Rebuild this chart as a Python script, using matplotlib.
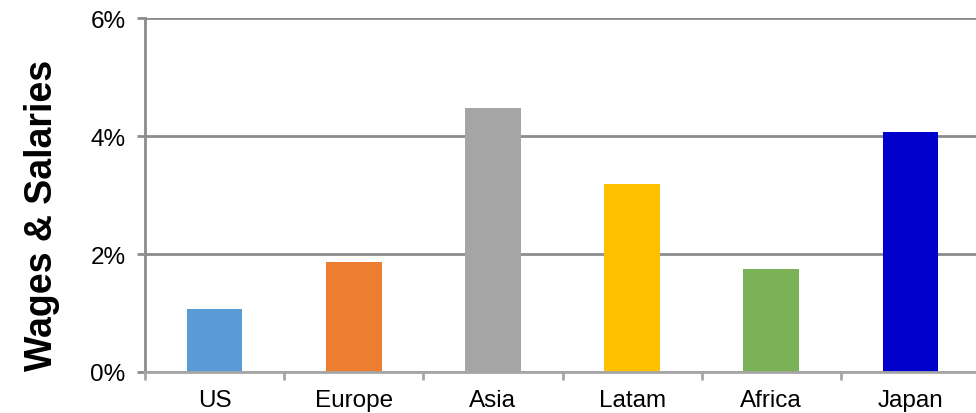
import matplotlib.pyplot as plt
from matplotlib.ticker import FuncFormatter

regions = ['US', 'Europe', 'Asia', 'Latam', 'Africa', 'Japan']
wages = [1.06, 1.87, 4.48, 3.18, 1.74, 4.07]
colors = ['#5b9bd5', '#ed7d31', '#a5a5a5', '#ffc000', '#7cb257', '#0000cc']
yticks = [0, 2, 4, 6]

plt.rcParams['font.family'] = ['Liberation Sans', 'DejaVu Sans']

fig = plt.figure(figsize=(9.76, 4.14), dpi=100)
ax = fig.add_axes([145 / 976, 41 / 414, 835 / 976, 354 / 414])

ax.bar(range(len(regions)), wages, width=0.4, color=colors, zorder=3)

ax.set_xlim(-0.5, len(regions) - 0.5)
ax.set_ylim(0, 6)
ax.set_yticks(yticks)
ax.yaxis.set_major_formatter(FuncFormatter(lambda v, p: '%d%%' % v))
ax.set_xticks(range(len(regions)))
ax.set_xticklabels(regions)
ax.set_xticks([i - 0.5 for i in range(len(regions) + 1)], minor=True)

ax.grid(axis='y', color='#8c8c8c', linewidth=2, zorder=0)
for s in ['top', 'right']:
    ax.spines[s].set_visible(False)
ax.spines['left'].set_color('#8c8c8c')
ax.spines['left'].set_linewidth(2)
ax.spines['bottom'].set_color('#a6a6a6')
ax.spines['bottom'].set_linewidth(2)
ax.spines['bottom'].set_zorder(4)

ax.tick_params(axis='y', direction='out', length=6, width=2, color='#8c8c8c',
               labelsize=17.5, pad=8)
ax.tick_params(axis='x', which='major', length=0, labelsize=17.5, pad=12)
ax.tick_params(axis='x', which='minor', direction='out', length=6, width=2,
               color='#a6a6a6')

ax.set_ylabel('Wages & Salaries', fontsize=27, fontweight='bold')
# label sits a bit below the middle of the axis in the original
ax.yaxis.set_label_coords(-0.102, 0.446)

fig.savefig('out.png', dpi=100)
